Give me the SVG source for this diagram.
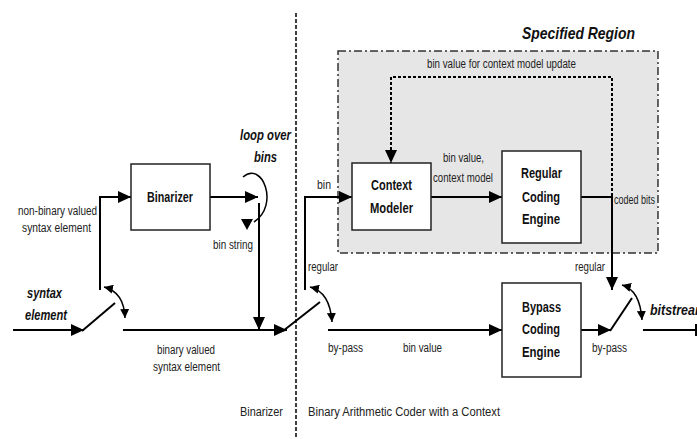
<svg xmlns="http://www.w3.org/2000/svg" width="697" height="439" viewBox="0 0 697 439">
<style>
  .t { font-family: "Liberation Sans Narrow", "Liberation Sans", Arial, sans-serif; font-size: 12.5px; fill: #222; }
  .b { font-family: "Liberation Sans Narrow", "Liberation Sans", Arial, sans-serif; font-size: 14px; font-weight: bold; fill: #111; }
  .bi { font-family: "Liberation Sans Narrow", "Liberation Sans", Arial, sans-serif; font-size: 14px; font-weight: bold; font-style: italic; fill: #111; }
  .box { fill: #fff; stroke: #222; stroke-width: 1.5; }
  .ln { fill: none; stroke: #000; stroke-width: 2; }
  .cv { fill: none; stroke: #000; stroke-width: 1.5; }
</style>
<defs>
  <marker id="ah" markerUnits="userSpaceOnUse" markerWidth="13" markerHeight="12" refX="13" refY="6" orient="auto">
    <path d="M0,0 L13,6 L0,12 z" fill="#000"/>
  </marker>
  <marker id="sh" markerUnits="userSpaceOnUse" markerWidth="9" markerHeight="9" refX="9" refY="4.5" orient="auto-start-reverse">
    <path d="M0,0 L9,4.5 L0,9 z" fill="#000"/>
  </marker>
</defs>

<rect x="0" y="0" width="697" height="439" fill="#fff"/>

<g id="specified-region">
  <rect x="338" y="51" width="320" height="202" fill="#e6e6e6" stroke="#333" stroke-width="1.5" stroke-dasharray="8,3,2,3"/>
  <text class="bi" x="522" y="39" font-size="17" textLength="113" lengthAdjust="spacingAndGlyphs" style="font-size:17px">Specified Region</text>
</g>

<g id="divider">
  <line x1="296" y1="13" x2="296" y2="439" stroke="#000" stroke-width="1.5" stroke-dasharray="4,2"/>
  <text class="t" x="240" y="416" textLength="43" lengthAdjust="spacingAndGlyphs">Binarizer</text>
  <text class="t" x="308" y="416" textLength="192" lengthAdjust="spacingAndGlyphs">Binary Arithmetic Coder with a Context</text>
</g>

<g id="connectors">
  <path class="ln" d="M13,330 H84" marker-end="url(#ah)"/>
  <path class="ln" d="M82,331 L115,303"/>
  <path class="cv" d="M104,287 Q124,292 125,318" marker-start="url(#sh)" marker-end="url(#sh)"/>
  <path class="ln" d="M100,290 V197 H131" marker-end="url(#ah)"/>
  <path class="ln" d="M210,197 H258" marker-end="url(#ah)"/>
  <path class="cv" d="M243,177 C262,160 280,205 254,222"/>
  <polygon points="241,219 253,219 247,230" fill="#000"/>
  <path class="ln" d="M259,203 V330" marker-end="url(#ah)"/>
  <path class="ln" d="M123,330 H287" marker-end="url(#ah)"/>
  <path class="ln" d="M283,331 L320,302"/>
  <path class="cv" d="M310,287 Q330,292 332,322" marker-start="url(#sh)" marker-end="url(#sh)"/>
  <path class="ln" d="M305,290 V197 H352" marker-end="url(#ah)"/>
  <path class="ln" d="M431,197 H502" marker-end="url(#ah)"/>
  <path class="ln" d="M581,197 H612 V290" marker-end="url(#ah)"/>
  <path fill="none" stroke="#000" stroke-width="2" stroke-dasharray="3,2" d="M612,196 V77 H391 V163" marker-end="url(#ah)"/>
  <path class="ln" d="M328,330 H502" marker-end="url(#ah)"/>
  <path class="ln" d="M581,330 H611" marker-end="url(#ah)"/>
  <path class="ln" d="M610,331 L632,298"/>
  <path class="cv" d="M622,285 Q640,290 642,320" marker-start="url(#sh)" marker-end="url(#sh)"/>
  <path class="ln" d="M643,330 H697"/>
  <path class="ln" d="M696,324 V336"/>

  <text class="t" x="18" y="215" textLength="79" lengthAdjust="spacingAndGlyphs">non-binary valued</text>
  <text class="t" x="22" y="232" textLength="69" lengthAdjust="spacingAndGlyphs">syntax element</text>
  <text class="t" x="213" y="249" textLength="40" lengthAdjust="spacingAndGlyphs">bin string</text>
  <text class="t" x="157" y="354" textLength="58" lengthAdjust="spacingAndGlyphs">binary valued</text>
  <text class="t" x="153" y="371" textLength="67" lengthAdjust="spacingAndGlyphs">syntax element</text>
  <text class="bi" x="240" y="140" textLength="51" lengthAdjust="spacingAndGlyphs">loop over</text>
  <text class="bi" x="254" y="162" textLength="23" lengthAdjust="spacingAndGlyphs">bins</text>
  <text class="bi" x="27" y="298" textLength="35" lengthAdjust="spacingAndGlyphs">syntax</text>
  <text class="bi" x="25" y="320" textLength="42" lengthAdjust="spacingAndGlyphs">element</text>
  <text class="t" x="317" y="189" textLength="14" lengthAdjust="spacingAndGlyphs">bin</text>
  <text class="t" x="308" y="271" textLength="30" lengthAdjust="spacingAndGlyphs">regular</text>
  <text class="t" x="443" y="162" textLength="41" lengthAdjust="spacingAndGlyphs">bin value,</text>
  <text class="t" x="433" y="182" textLength="60" lengthAdjust="spacingAndGlyphs">context model</text>
  <text class="t" x="614" y="204" textLength="41" lengthAdjust="spacingAndGlyphs">coded bits</text>
  <text class="t" x="427" y="68" textLength="149" lengthAdjust="spacingAndGlyphs">bin value for context model update</text>
  <text class="t" x="575" y="271" textLength="30" lengthAdjust="spacingAndGlyphs">regular</text>
  <text class="t" x="328" y="352" textLength="35" lengthAdjust="spacingAndGlyphs">by-pass</text>
  <text class="t" x="403" y="352" textLength="39" lengthAdjust="spacingAndGlyphs">bin value</text>
  <text class="t" x="592" y="352" textLength="35" lengthAdjust="spacingAndGlyphs">by-pass</text>
  <text class="bi" x="650" y="315" textLength="56" lengthAdjust="spacingAndGlyphs">bitstream</text>
</g>

<g id="binarizer">
  <rect class="box" x="131" y="164" width="79" height="66"/>
  <text class="b" x="147" y="202" textLength="46" lengthAdjust="spacingAndGlyphs">Binarizer</text>
</g>

<g id="context-modeler">
  <rect class="box" x="352" y="163" width="79" height="67"/>
  <text class="b" x="371" y="190" textLength="41" lengthAdjust="spacingAndGlyphs">Context</text>
  <text class="b" x="370" y="213" textLength="43" lengthAdjust="spacingAndGlyphs">Modeler</text>
</g>

<g id="regular-coding-engine">
  <rect class="box" x="502" y="151" width="79" height="92"/>
  <text class="b" x="521" y="178" textLength="41" lengthAdjust="spacingAndGlyphs">Regular</text>
  <text class="b" x="522" y="202" textLength="38" lengthAdjust="spacingAndGlyphs">Coding</text>
  <text class="b" x="522" y="224" textLength="38" lengthAdjust="spacingAndGlyphs">Engine</text>
</g>

<g id="bypass-coding-engine">
  <rect class="box" x="502" y="283" width="79" height="94"/>
  <text class="b" x="522" y="312" textLength="39" lengthAdjust="spacingAndGlyphs">Bypass</text>
  <text class="b" x="522" y="334" textLength="38" lengthAdjust="spacingAndGlyphs">Coding</text>
  <text class="b" x="522" y="357" textLength="38" lengthAdjust="spacingAndGlyphs">Engine</text>
</g>
</svg>
